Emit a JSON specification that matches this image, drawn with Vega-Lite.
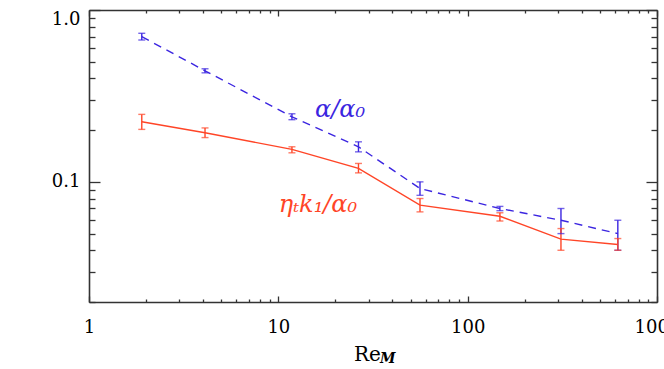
{
  "$schema": "https://vega.github.io/schema/vega-lite/v6.json",
  "width": 568,
  "height": 292,
  "autosize": {"type": "none"},
  "padding": {"left": 89, "top": 10, "right": 7, "bottom": 67},
  "background": "white",
  "config": {
    "view": {"stroke": null},
    "axis": {
      "domainColor": "#333333", "domainWidth": 1.6,
      "tickColor": "#333333", "tickWidth": 1.3,
      "grid": false,
      "labelFont": "DejaVu Serif", "labelFontSize": 18, "labelColor": "black",
      "titleFont": "DejaVu Serif", "titleFontSize": 20, "titleFontWeight": "normal", "titleColor": "black"
    }
  },
  "datasets": {
    "pts": [
      {"series": "alpha", "x": 1.9, "y": 0.70, "lo": 0.669, "hi": 0.732},
      {"series": "alpha", "x": 4.1, "y": 0.443, "lo": 0.431, "hi": 0.455},
      {"series": "alpha", "x": 11.8, "y": 0.239, "lo": 0.230, "hi": 0.249},
      {"series": "alpha", "x": 26.5, "y": 0.160, "lo": 0.1495, "hi": 0.171},
      {"series": "alpha", "x": 56, "y": 0.0915, "lo": 0.0835, "hi": 0.100},
      {"series": "alpha", "x": 148, "y": 0.070, "lo": 0.068, "hi": 0.072},
      {"series": "alpha", "x": 311, "y": 0.0598, "lo": 0.050, "hi": 0.070},
      {"series": "alpha", "x": 621, "y": 0.050, "lo": 0.040, "hi": 0.0598},
      {"series": "eta", "x": 1.9, "y": 0.2236, "lo": 0.202, "hi": 0.247},
      {"series": "eta", "x": 4.1, "y": 0.193, "lo": 0.181, "hi": 0.206},
      {"series": "eta", "x": 11.8, "y": 0.1545, "lo": 0.1476, "hi": 0.160},
      {"series": "eta", "x": 26.5, "y": 0.1197, "lo": 0.1128, "hi": 0.128},
      {"series": "eta", "x": 56, "y": 0.0732, "lo": 0.0669, "hi": 0.080},
      {"series": "eta", "x": 148, "y": 0.0631, "lo": 0.0592, "hi": 0.0661},
      {"series": "eta", "x": 311, "y": 0.0464, "lo": 0.040, "hi": 0.0535},
      {"series": "eta", "x": 621, "y": 0.0432, "lo": 0.040, "hi": 0.0468}
    ],
    "labels": [
      {"series": "alpha", "x": 21.2, "y": 0.262, "text": "α/α₀"},
      {"series": "eta", "x": 16.2, "y": 0.073, "text": "ηₜk₁/α₀"}
    ]
  },
  "resolve": {"axis": {"x": "independent", "y": "independent"}},
  "layer": [
    {
      "data": {"name": "pts"},
      "transform": [{"filter": "datum.series == 'alpha'"}],
      "mark": {"type": "line", "strokeWidth": 1.4, "strokeDash": [8, 6]},
      "encoding": {
        "x": {"field": "x", "type": "quantitative",
          "scale": {"type": "log", "domain": [1, 1000], "nice": false},
          "axis": {"orient": "bottom", "title": "Re", "titleX": 278, "titlePadding": 8, "labelFlush": false,
            "values": [1,2,3,4,5,6,7,8,9,10,20,30,40,50,60,70,80,90,100,200,300,400,500,600,700,800,900,1000],
            "tickSize": {"condition": {"test": "datum.value==1||datum.value==10||datum.value==100||datum.value==1000", "value": -6}, "value": -3},
            "labelPadding": 22,
            "labelExpr": "(datum.value==1||datum.value==10||datum.value==100||datum.value==1000) ? format(datum.value, 'd') : ''"}},
        "y": {"field": "y", "type": "quantitative",
          "scale": {"type": "log", "domain": [0.02, 1], "nice": false},
          "axis": {"orient": "left", "title": null,
            "values": [0.02,0.03,0.04,0.05,0.06,0.07,0.08,0.09,0.1,0.2,0.3,0.4,0.5,0.6,0.7,0.8,0.9,1],
            "tickSize": {"condition": {"test": "datum.value==0.1||datum.value==1", "value": -11}, "value": -6},
            "labelPadding": 20, "labelFlush": true,
            "labelExpr": "datum.value==1 ? '1.0' : (datum.value==0.1 ? '0.1' : '')"}},
        "color": {"field": "series", "type": "nominal", "scale": {"domain": ["alpha", "eta"], "range": ["#3b25e0", "#ff4527"]}, "legend": null}
      }
    },
    {
      "data": {"name": "pts"},
      "transform": [{"filter": "datum.series == 'eta'"}],
      "mark": {"type": "line", "strokeWidth": 1.4},
      "encoding": {
        "x": {"field": "x", "type": "quantitative",
          "scale": {"type": "log", "domain": [1, 1000], "nice": false},
          "axis": {"orient": "top", "title": null, "labels": false,
            "values": [1,2,3,4,5,6,7,8,9,10,20,30,40,50,60,70,80,90,100,200,300,400,500,600,700,800,900,1000],
            "tickSize": {"condition": {"test": "datum.value==1||datum.value==10||datum.value==100||datum.value==1000", "value": -6}, "value": -3}}},
        "y": {"field": "y", "type": "quantitative",
          "scale": {"type": "log", "domain": [0.02, 1], "nice": false},
          "axis": {"orient": "right", "title": null, "labels": false,
            "values": [0.02,0.03,0.04,0.05,0.06,0.07,0.08,0.09,0.1,0.2,0.3,0.4,0.5,0.6,0.7,0.8,0.9,1],
            "tickSize": {"condition": {"test": "datum.value==0.1||datum.value==1", "value": -11}, "value": -6}}},
        "color": {"field": "series", "type": "nominal", "scale": {"domain": ["alpha", "eta"], "range": ["#3b25e0", "#ff4527"]}, "legend": null}
      }
    },
    {
      "data": {"name": "pts"},
      "mark": {"type": "rule", "strokeWidth": 1.4},
      "encoding": {
        "x": {"field": "x", "type": "quantitative", "scale": {"type": "log", "domain": [1, 1000], "nice": false}, "axis": null},
        "y": {"field": "lo", "type": "quantitative", "scale": {"type": "log", "domain": [0.02, 1], "nice": false}, "axis": null},
        "y2": {"field": "hi"},
        "color": {"field": "series", "type": "nominal", "scale": {"domain": ["alpha", "eta"], "range": ["#3b25e0", "#ff4527"]}, "legend": null}
      }
    },
    {
      "data": {"name": "pts"},
      "mark": {"type": "tick", "orient": "horizontal", "size": 7, "thickness": 1.4},
      "encoding": {
        "x": {"field": "x", "type": "quantitative", "scale": {"type": "log", "domain": [1, 1000], "nice": false}, "axis": null},
        "y": {"field": "lo", "type": "quantitative", "scale": {"type": "log", "domain": [0.02, 1], "nice": false}, "axis": null},
        "color": {"field": "series", "type": "nominal", "scale": {"domain": ["alpha", "eta"], "range": ["#3b25e0", "#ff4527"]}, "legend": null}
      }
    },
    {
      "data": {"name": "pts"},
      "mark": {"type": "tick", "orient": "horizontal", "size": 7, "thickness": 1.4},
      "encoding": {
        "x": {"field": "x", "type": "quantitative", "scale": {"type": "log", "domain": [1, 1000], "nice": false}, "axis": null},
        "y": {"field": "hi", "type": "quantitative", "scale": {"type": "log", "domain": [0.02, 1], "nice": false}, "axis": null},
        "color": {"field": "series", "type": "nominal", "scale": {"domain": ["alpha", "eta"], "range": ["#3b25e0", "#ff4527"]}, "legend": null}
      }
    },
    {
      "data": {"name": "labels"},
      "mark": {"type": "text", "font": "DejaVu Serif", "fontSize": 24, "fontStyle": "italic", "align": "center", "baseline": "middle"},
      "encoding": {
        "x": {"field": "x", "type": "quantitative", "scale": {"type": "log", "domain": [1, 1000], "nice": false}, "axis": null},
        "y": {"field": "y", "type": "quantitative", "scale": {"type": "log", "domain": [0.02, 1], "nice": false}, "axis": null},
        "text": {"field": "text"},
        "color": {"field": "series", "type": "nominal", "scale": {"domain": ["alpha", "eta"], "range": ["#3b25e0", "#ff4527"]}, "legend": null}
      }
    },
    {
      "data": {"values": [{"x": 37.8, "y": 0.0093, "text": "M"}]},
      "mark": {"type": "text", "font": "DejaVu Serif", "fontSize": 14, "fontStyle": "italic", "fontWeight": "bold", "align": "center", "baseline": "middle", "color": "black"},
      "encoding": {
        "x": {"field": "x", "type": "quantitative", "scale": {"type": "log", "domain": [1, 1000], "nice": false}, "axis": null},
        "y": {"field": "y", "type": "quantitative", "scale": {"type": "log", "domain": [0.02, 1], "nice": false}, "axis": null},
        "text": {"field": "text"}
      }
    }
  ]
}
